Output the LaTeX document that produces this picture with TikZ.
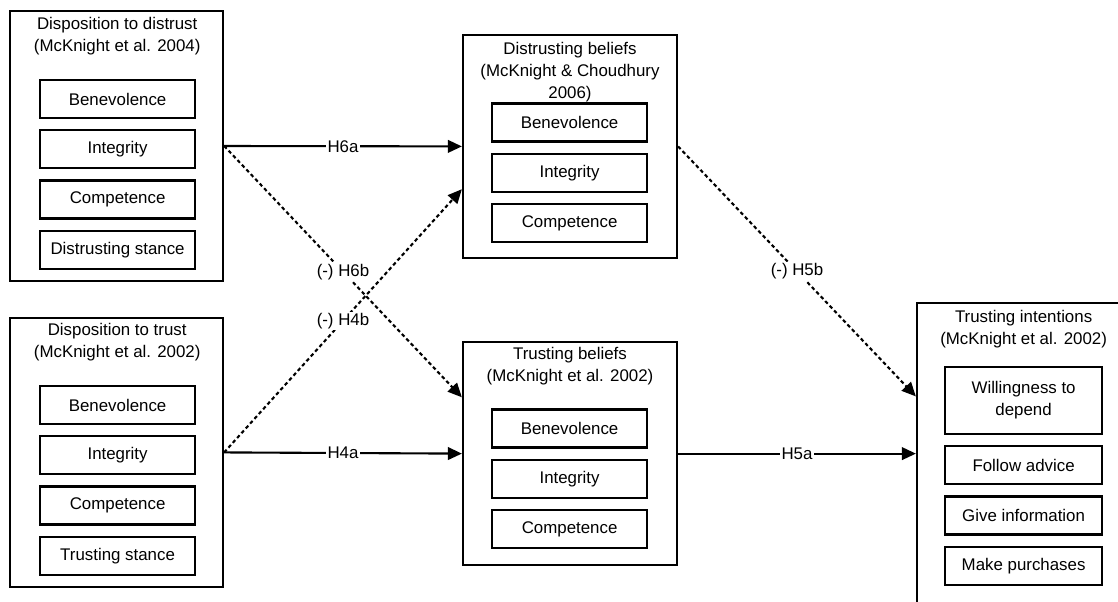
\documentclass[tikz,border=0pt]{standalone}
\usepackage{fontspec}
\setmainfont{Liberation Sans}
\usetikzlibrary{positioning,chains,calc,arrows.meta}

\begin{document}
\begin{tikzpicture}[x=1cm,y=-1cm,
  font=\fontsize{12}{15.5}\selectfont,
  outerbox/.style={draw,line width=1.6pt,rectangle,minimum width=5.33cm},
  itembox/.style={draw,line width=1.6pt,rectangle,minimum width=3.88cm,minimum height=0.95cm,inner sep=2pt},
  titletext/.style={align=center,inner sep=0pt},
  hyp/.style={line width=1.5pt,-{Triangle[length=10pt,width=9pt]}},
  neghyp/.style={hyp,dash pattern=on 2.6pt off 2pt},
  hlabel/.style={fill=white,inner sep=1pt}
]
\useasboundingbox (0,0) rectangle (27.95,15.025);
\clip (0,0) rectangle (27.95,15.025);

% the dispositions
\node[outerbox,minimum height=6.75cm] (dd) at (2.91,3.65) {};
\node[titletext] (ddt) at (2.93,0.9) {Disposition to distrust\\(McKnight et al. 2004)};
\begin{scope}[xshift=2.94cm,yshift=-2.475cm,start chain=going below,node distance=2.5mm]
\foreach \t [count=\i] in {Benevolence,Integrity,Competence,Distrusting stance}
  \node[itembox,on chain] (dd\i) {\t};
\end{scope}

\node[outerbox,minimum height=6.73cm] (dt) at (2.91,11.31) {};
\node[titletext] (dtt) at (2.93,8.56) {Disposition to trust\\(McKnight et al. 2002)};
\begin{scope}[xshift=2.94cm,yshift=-10.125cm,start chain=going below,node distance=2.5mm]
\foreach \t [count=\i] in {Benevolence,Integrity,Competence,Trusting stance}
  \node[itembox,on chain] (dt\i) {\t};
\end{scope}

% the beliefs
\node[outerbox,minimum width=5.35cm,minimum height=5.575cm] (db) at (14.25,3.66) {};
\node[titletext] (dbt) at (14.25,1.8) {Distrusting beliefs\\(McKnight \& Choudhury\\2006)};
\begin{scope}[xshift=14.24cm,yshift=-3.06cm,start chain=going below,node distance=2.5mm]
\foreach \t [count=\i] in {Benevolence,Integrity,Competence}
  \node[itembox,on chain] (db\i) {\t};
\end{scope}

\node[outerbox,minimum width=5.35cm,minimum height=5.575cm] (tb) at (14.25,11.34) {};
\node[titletext] (tbt) at (14.25,9.15) {Trusting beliefs\\(McKnight et al. 2002)};
\begin{scope}[xshift=14.24cm,yshift=-10.71cm,start chain=going below,node distance=2.5mm]
\foreach \t [count=\i] in {Benevolence,Integrity,Competence}
  \node[itembox,on chain] (tb\i) {\t};
\end{scope}

% the intentions
\node[outerbox,minimum height=7.675cm] (ti) at (25.59,11.41) {};
\node[titletext] (tit) at (25.59,8.225) {Trusting intentions\\(McKnight et al. 2002)};
\begin{scope}[xshift=25.59cm,yshift=-10.01cm,start chain=going below,node distance=2.5mm]
\node[itembox,on chain,minimum width=3.93cm,minimum height=1.675cm,align=center] (ti1) {Willingness to\\depend};
\foreach \t [count=\i from 2] in {Follow advice,Give information,Make purchases}
  \node[itembox,on chain,minimum width=3.93cm] (ti\i) {\t};
\end{scope}

% the hypotheses
\draw[hyp] (dd.east) -- node[hlabel] {H6a} (db.west);
\draw[hyp] (dt.east) -- node[hlabel] {H4a} (tb.west);
\draw[hyp] (tb.east) -- node[hlabel] {H5a} (tb.east -| ti.west);
\draw[neghyp] (dd.east) -- node[hlabel] {(-) H6b} ($(tb.north west)!0.25!(tb.south west)$);
\draw[neghyp] (dt.east) -- node[hlabel] {(-) H4b} ($(db.north west)!0.69!(db.south west)$);
\draw[neghyp] (db.east) -- node[hlabel] {(-) H5b} ($(ti.north west)!0.306!(ti.south west)$);
\end{tikzpicture}
\end{document}
